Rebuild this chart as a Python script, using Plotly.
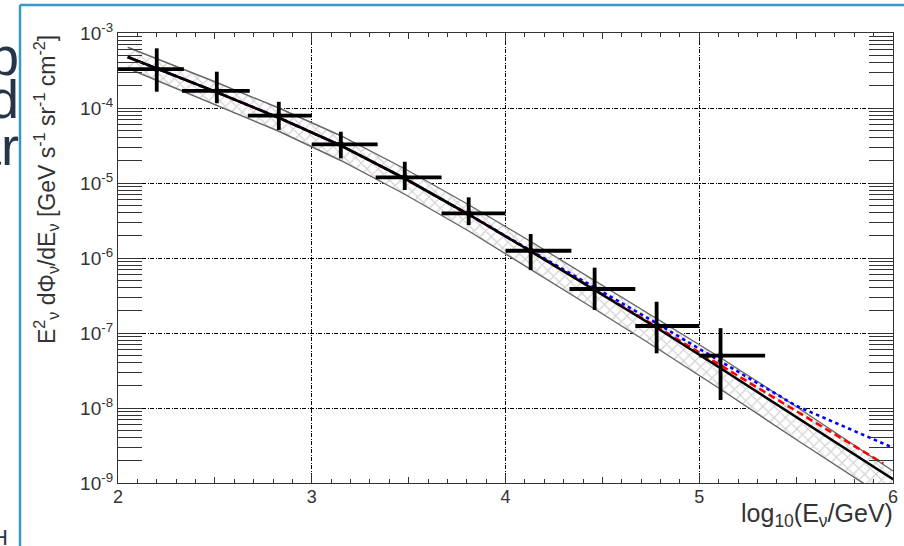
import numpy as np
import plotly.graph_objects as go

# ---- measured spectrum (unfolded points) ----
bin_lo = [2.0, 2.33, 2.67, 3.0, 3.33, 3.67, 4.0, 4.33, 4.67, 5.0]
bin_hi = [2.34, 2.68, 3.0, 3.34, 3.67, 4.0, 4.34, 4.67, 5.0, 5.34]
log_e = [2.2, 2.51, 2.83, 3.15, 3.48, 3.81, 4.13, 4.46, 4.78, 5.11]
flux = [3.3e-4, 1.69e-4, 7.9e-5, 3.28e-5, 1.19e-5, 3.94e-6, 1.25e-6, 3.86e-7, 1.24e-7, 4.98e-8]
flux_hi = [6.25e-4, 3.05e-4, 1.21e-4, 4.83e-5, 1.92e-5, 6.44e-6, 2.09e-6, 7.43e-7, 2.61e-7, 1.16e-7]
flux_lo = [1.65e-4, 1.16e-4, 5.1e-5, 2.13e-5, 8.07e-6, 2.75e-6, 6.9e-7, 2.03e-7, 5.36e-8, 1.28e-8]

# ---- model curves (log10 of E^2 dPhi/dE) ----
model_x = [2.05, 2.2, 2.5, 2.83, 3.15, 3.48, 3.81, 4.13, 4.46, 4.78, 5.11, 5.5, 6.0]
conv_log = [-3.32, -3.47, -3.78, -4.13, -4.50, -4.94, -5.42, -5.91, -6.43, -6.93, -7.47, -8.12, -8.95]
band_hi_log = [-3.19, -3.34, -3.65, -4.00, -4.37, -4.81, -5.29, -5.78, -6.30, -6.80, -7.33, -7.98, -8.84]
band_lo_log = [-3.47, -3.63, -3.95, -4.31, -4.70, -5.15, -5.64, -6.15, -6.68, -7.20, -7.75, -8.42, -9.26]

red_x = [2.05, 2.2, 2.5, 2.83, 3.15, 3.48, 3.81, 4.13, 4.46, 4.78, 5.11, 5.5, 5.95]
red_log = [-3.32, -3.47, -3.78, -4.13, -4.50, -4.94, -5.42, -5.91, -6.42, -6.91, -7.43, -8.04, -8.74]
blue_x = [2.05, 2.2, 2.5, 2.83, 3.15, 3.48, 3.81, 4.13, 4.46, 4.78, 5.11, 5.5, 6.0]
blue_log = [-3.32, -3.47, -3.78, -4.13, -4.50, -4.94, -5.42, -5.90, -6.395, -6.87, -7.38, -7.97, -8.53]

# ---- axis labels ----
x_ticks = [2, 3, 4, 5, 6]
y_exps = [-9, -8, -7, -6, -5, -4, -3]

# ---- slide text to the left of the panel border ----
side_text = ["ub", "d", "ar", "H"]
side_x = [20, 20, 20, 9]
side_y = [56, 99, 146, 537]
side_size = [54, 54, 54, 22]

W, H = 904, 546
FONT = "Liberation Sans, Arial, sans-serif"
TXT = "#333333"
FRAME = "#333333"
BORDER = "#3a97c6"

def pow10(arr):
    return [10.0 ** v for v in arr]

fig = go.Figure()

# hatched uncertainty band
fig.add_trace(go.Scatter(
    x=model_x + model_x[::-1],
    y=pow10(band_hi_log) + pow10(band_lo_log)[::-1],
    mode="lines", fill="toself", fillcolor="white",
    fillpattern=dict(shape="x", fgcolor="#a8a8a8", bgcolor="white", size=8, solidity=0.3),
    line=dict(width=0), hoverinfo="skip", showlegend=False))
for edge in (band_hi_log, band_lo_log):
    fig.add_trace(go.Scatter(x=model_x, y=pow10(edge), mode="lines",
                             line=dict(color="#666666", width=1.4),
                             hoverinfo="skip", showlegend=False))

# model predictions
fig.add_trace(go.Scatter(x=red_x, y=pow10(red_log), mode="lines",
                         line=dict(color="#ff0000", width=2.6, dash="7px,4px"),
                         showlegend=False))
fig.add_trace(go.Scatter(x=blue_x, y=pow10(blue_log), mode="lines",
                         line=dict(color="#0000ff", width=2.6, dash="3.5px,3.5px"),
                         showlegend=False))
fig.add_trace(go.Scatter(x=model_x, y=pow10(conv_log), mode="lines",
                         line=dict(color="black", width=2.6), showlegend=False))

# unfolded data points
fig.add_trace(go.Scatter(
    x=log_e, y=flux, mode="markers",
    marker=dict(color="black", size=6),
    error_x=dict(type="data", symmetric=False,
                 array=[h - c for h, c in zip(bin_hi, log_e)],
                 arrayminus=[c - l for c, l in zip(log_e, bin_lo)],
                 color="black", thickness=3.8, width=0),
    error_y=dict(type="data", symmetric=False,
                 array=[h - c for h, c in zip(flux_hi, flux)],
                 arrayminus=[c - l for c, l in zip(flux, flux_lo)],
                 color="black", thickness=3.8, width=0),
    showlegend=False))

# carrier for the half-unit tick axis
fig.add_trace(go.Scatter(x=[2, 6], y=[1e-9, 1e-3], mode="none", xaxis="x3", yaxis="y",
                         hoverinfo="skip", showlegend=False))

x0, x1 = 118 / W, 893 / W
y0, y1 = 1 - 483 / H, 1 - 33 / H
grid_dash = "4px,1.5px,1px,1.5px"

annotations = []
for t, sx, sy, fs in zip(side_text, side_x, side_y, side_size):
    annotations.append(dict(text=t, xref="paper", yref="paper", x=sx / W, y=1 - sy / H,
                            xanchor="right", yanchor="middle", showarrow=False,
                            borderpad=0,
                            font=dict(family=FONT, size=fs, color="#27354a")))
annotations += [
    dict(text="log<sub>10</sub>(E<sub>ν</sub>/GeV)", xref="paper", yref="paper",
         x=x1 + 2 / W, y=1 - 497 / H, xanchor="right", yanchor="top", showarrow=False,
         font=dict(size=25, color=TXT, family=FONT)),
    dict(text="E<sup>2</sup><sub>ν</sub> dΦ<sub>ν</sub>/dE<sub>ν</sub> "
              "[GeV s<sup>-1</sup> sr<sup>-1</sup> cm<sup>-2</sup>]",
         xref="paper", yref="paper", x=46 / W, y=1 - 190 / H,
         xanchor="center", yanchor="middle", textangle=-90, showarrow=False,
         font=dict(size=23, color=TXT, family=FONT)),
]

fig.update_layout(
    width=W, height=H, autosize=False,
    margin=dict(l=0, r=0, t=0, b=0, autoexpand=False),
    paper_bgcolor="white", plot_bgcolor="white",
    font=dict(family=FONT, color=TXT),
    xaxis=dict(
        domain=[x0, x1], range=[2, 6], anchor="y", automargin=False,
        tickmode="array", tickvals=x_ticks, ticktext=[str(v) for v in x_ticks],
        ticks="inside", ticklen=9, tickwidth=1, tickcolor=FRAME,
        showline=True, linecolor=FRAME, linewidth=1.3, mirror="allticks",
        showgrid=True, gridcolor="black", gridwidth=1, griddash=grid_dash,
        zeroline=False, tickfont=dict(size=18, color=TXT),
        ticklabelstandoff=-3,
        minor=dict(dtick=0.1, tick0=2, ticks="inside", ticklen=4,
                   tickcolor=FRAME, showgrid=False),
    ),
    xaxis3=dict(
        domain=[x0, x1], range=[2, 6], anchor="y", overlaying="x", automargin=False,
        tickmode="array", tickvals=[2.5, 3.5, 4.5, 5.5],
        ticks="inside", ticklen=6, tickcolor=FRAME, mirror="allticks",
        showticklabels=False, showgrid=False, showline=False, zeroline=False,
    ),
    yaxis=dict(
        domain=[y0, y1], type="log", range=[-9, -3], anchor="x", automargin=False,
        tickmode="array", tickvals=[10.0 ** e for e in y_exps],
        ticktext=[f"10<sup>{e}</sup>" for e in y_exps],
        ticks="inside", ticklen=24, tickwidth=1, tickcolor=FRAME,
        showline=True, linecolor=FRAME, linewidth=1.3, mirror="allticks",
        showgrid=True, gridcolor="black", gridwidth=1, griddash=grid_dash,
        zeroline=False, tickfont=dict(size=19, color=TXT),
        minor=dict(dtick="D1", ticks="inside", ticklen=12,
                   tickcolor=FRAME, showgrid=False),
    ),
    shapes=[
        dict(type="line", xref="paper", yref="paper", x0=20 / W, x1=20 / W,
             y0=0, y1=1 - 5 / H, line=dict(color=BORDER, width=2.5)),
        dict(type="line", xref="paper", yref="paper", x0=20 / W, x1=1,
             y0=1 - 5 / H, y1=1 - 5 / H, line=dict(color=BORDER, width=2.5)),
    ],
    annotations=annotations,
)

fig.write_html("out.html")
